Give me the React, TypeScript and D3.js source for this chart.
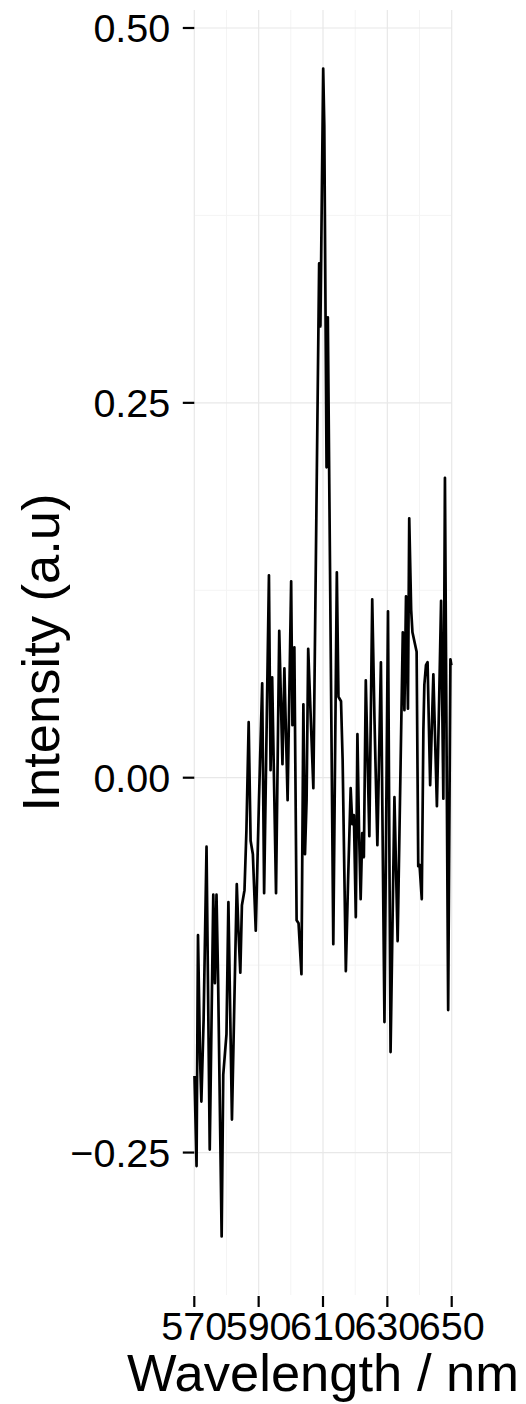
import React from "react";
import * as d3 from "d3";

const wavelength: number[] = [
  570.06, 570.7, 571.15, 571.8, 572.2, 572.9, 573.8, 574.8, 575.9, 576.4,
  576.9, 577.4, 578.5, 579.0, 580.0, 580.6, 581.7, 583.2, 583.7, 584.3,
  584.8, 585.6, 586.2, 586.9, 587.5, 588.2, 589.1, 590.1, 591.1, 591.7,
  593.2, 593.7, 594.2, 595.4, 596.4, 597.4, 598.0, 599.0, 600.1, 600.5,
  601.1, 601.8, 602.4, 603.3, 603.9, 604.4, 604.9, 605.4, 607.0, 608.8,
  609.2, 610.06, 610.4, 611.1, 611.5, 613.2, 614.3, 614.8, 615.6, 616.1,
  617.1, 617.8, 618.6, 619.1, 619.6, 620.2, 620.7, 621.2, 621.7, 622.2,
  622.7, 623.3, 624.4, 625.3, 626.0, 626.9, 628.0, 629.1, 630.2, 631.0,
  632.2, 633.2, 634.8, 635.3, 635.8, 636.4, 636.8, 637.4, 637.8, 639.1,
  639.6, 640.0, 640.7, 641.2, 641.5, 642.0, 642.5, 643.3, 644.3, 645.4,
  646.1, 646.7, 647.4, 647.9, 648.9, 649.6, 649.9,
];

const intensity: number[] = [
  -0.199, -0.259, -0.105, -0.188, -0.216, -0.161, -0.046, -0.248, -0.078, -0.137,
  -0.078, -0.135, -0.306, -0.198, -0.171, -0.083, -0.228, -0.071, -0.101, -0.13,
  -0.085, -0.075, -0.035, 0.037, -0.042, -0.051, -0.102, -0.015, 0.063, -0.077,
  0.135, 0.005, 0.067, -0.077, 0.098, 0.009, 0.073, -0.015, 0.131, 0.035,
  0.087, -0.095, -0.097, -0.131, 0.049, -0.051, -0.015, 0.086, -0.007, 0.343,
  0.301, 0.473, 0.435, 0.207, 0.307, -0.111, 0.137, 0.054, 0.051, 0.012,
  -0.129, -0.068, -0.007, -0.031, -0.025, -0.093, 0.029, -0.035, -0.081, -0.037,
  -0.053, 0.065, -0.039, 0.119, 0.039, -0.045, 0.077, -0.163, 0.111, -0.183,
  -0.013, -0.109, 0.097, 0.045, 0.121, 0.046, 0.173, 0.112, 0.097, 0.084,
  -0.059, -0.058, -0.081, 0.032, 0.062, 0.075, 0.077, -0.005, 0.069, -0.019,
  0.052, 0.118, -0.014, 0.2, -0.155, 0.079, 0.075,
];

const xTicks: number[] = [570, 590, 610, 630, 650];
const xMinor: number[] = [580, 600, 620, 640];
const yTicks: number[] = [-0.25, 0, 0.25, 0.5];
const yMinor: number[] = [-0.125, 0.125, 0.375];
const yTickLabels: string[] = ["\u22120.25", "0.00", "0.25", "0.50"];

const W = 526;
const H = 1404;
const left = 194.3;
const right = 451.7;
const top = 10;
const bottom = 1295;
const FONT = "'Liberation Sans', Arial, Helvetica, sans-serif";

export default function App() {
  const x = d3.scaleLinear().domain([570, 650]).range([left, right]);
  const y = d3.scaleLinear().domain([-0.345, 0.512]).range([bottom, top]);
  const pts: [number, number][] = wavelength.map((w, i) => [w, intensity[i]]);
  const line = d3
    .line<[number, number]>()
    .x((d) => x(d[0]))
    .y((d) => y(d[1]));

  return (
    <svg
      width={W}
      height={H}
      style={{ position: "absolute", left: 0, top: 0, background: "#fff" }}
      fontFamily={FONT}
    >
      <rect x={0} y={0} width={W} height={H} fill="#fff" />
      {xMinor.map((v) => (
        <line key={"xm" + v} x1={x(v)} x2={x(v)} y1={top} y2={bottom} stroke="#f4f4f4" strokeWidth={1} />
      ))}
      {yMinor.map((v) => (
        <line key={"ym" + v} x1={left} x2={right} y1={y(v)} y2={y(v)} stroke="#f4f4f4" strokeWidth={1} />
      ))}
      {xTicks.map((v) => (
        <line key={"xg" + v} x1={x(v)} x2={x(v)} y1={top} y2={bottom} stroke="#e8e8e8" strokeWidth={1.2} />
      ))}
      {yTicks.map((v) => (
        <line key={"yg" + v} x1={left} x2={right} y1={y(v)} y2={y(v)} stroke="#e8e8e8" strokeWidth={1.2} />
      ))}
      <path d={line(pts) || ""} fill="none" stroke="#000" strokeWidth={2.7} strokeLinejoin="round" />
      {yTicks.map((v, i) => (
        <g key={"yt" + v}>
          <line x1={left - 11.5} x2={left} y1={y(v)} y2={y(v)} stroke="#000" strokeWidth={2.2} />
          <text x={left - 24} y={y(v)} dy="0.36em" textAnchor="end" fontSize={39.5} fill="#000">
            {yTickLabels[i]}
          </text>
        </g>
      ))}
      {xTicks.map((v) => (
        <g key={"xt" + v}>
          <line x1={x(v)} x2={x(v)} y1={bottom + 1} y2={bottom + 12} stroke="#000" strokeWidth={2.2} />
          <text x={x(v)} y={1340} textAnchor="middle" fontSize={39.5} fill="#000">
            {String(v)}
          </text>
        </g>
      ))}
      <text x={(left + right) / 2} y={1391} textAnchor="middle" fontSize={52.5} fill="#000">
        Wavelength / nm
      </text>
      <text
        transform={`translate(59, ${(top + bottom) / 2}) rotate(-90)`}
        textAnchor="middle"
        fontSize={52.5}
        fill="#000"
      >
        Intensity (a.u)
      </text>
    </svg>
  );
}
